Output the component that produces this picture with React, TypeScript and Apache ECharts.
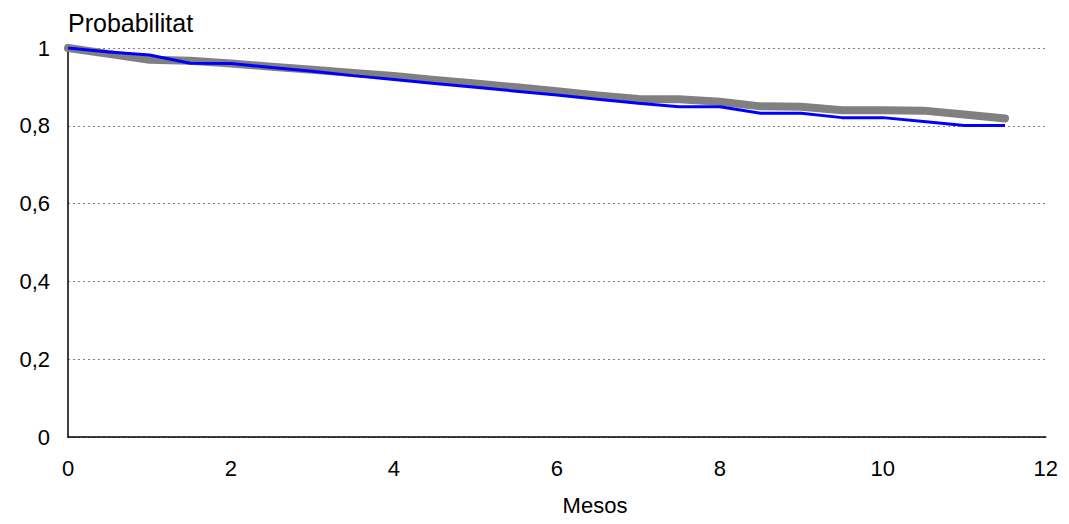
import React, { useEffect, useRef } from "react";
import * as echarts from "echarts";

const months = [0, 0.5, 1, 1.5, 2, 2.5, 3, 3.5, 4, 4.5, 5, 5.5, 6, 6.5, 7, 7.5, 8, 8.5, 9, 9.5, 10, 10.5, 11, 11.5];
const grayValues = [1, 0.985, 0.97, 0.967, 0.96, 0.952, 0.944, 0.936, 0.928, 0.918, 0.909, 0.899, 0.889, 0.878, 0.869, 0.868, 0.862, 0.85, 0.849, 0.84, 0.84, 0.839, 0.829, 0.819];
const blueValues = [1, 0.99, 0.982, 0.961, 0.96, 0.95, 0.94, 0.929, 0.919, 0.909, 0.899, 0.889, 0.879, 0.868, 0.858, 0.849, 0.849, 0.832, 0.832, 0.821, 0.821, 0.811, 0.801, 0.801];
const yTitle = "Probabilitat";
const xTitle = "Mesos";

const FONT = "'Liberation Sans', Arial, sans-serif";

export default function App() {
  const ref = useRef<HTMLDivElement>(null);
  useEffect(() => {
    if (!ref.current) return;
    const chart = echarts.init(ref.current, null, { renderer: "svg" });
    chart.setOption({
      animation: false,
      backgroundColor: "#ffffff",
      textStyle: { fontFamily: FONT },
      grid: { left: 60, right: 11, top: 40, bottom: 79, containLabel: false },
      graphic: [
        {
          type: "text",
          left: 60,
          top: 2,
          style: { text: yTitle, font: `25px ${FONT}`, fill: "#000" },
        },
        {
          type: "text",
          x: 587,
          y: 497,
          style: { text: xTitle, font: `22px ${FONT}`, fill: "#000", align: "center", verticalAlign: "middle" },
        },
      ],
      xAxis: {
        type: "value",
        min: 0,
        max: 12,
        interval: 2,
        axisLine: { show: true, onZero: false, lineStyle: { color: "#000", width: 1.5 } },
        axisTick: { show: false },
        splitLine: { show: false },
        axisLabel: { fontFamily: FONT, fontSize: 22, color: "#000", margin: 20 },
      },
      yAxis: {
        type: "value",
        min: 0,
        max: 1,
        interval: 0.2,
        axisLine: { show: true, lineStyle: { color: "#000", width: 1.5 } },
        axisTick: { show: false },
        splitLine: { show: true, lineStyle: { color: "#808080", type: [2, 3], width: 1 } },
        axisLabel: {
          fontFamily: FONT,
          fontSize: 22,
          color: "#000",
          margin: 18,
          formatter: (v: number) => String(Math.round(v * 10) / 10).replace(".", ","),
        },
      },
      series: [
        {
          type: "line",
          data: months.map((m, i) => [m, grayValues[i]]),
          showSymbol: false,
          lineStyle: { color: "#808080", width: 8, cap: "round", join: "round" },
          z: 2,
        },
        {
          type: "line",
          data: months.map((m, i) => [m, blueValues[i]]),
          showSymbol: false,
          lineStyle: { color: "#0000ff", width: 3 },
          z: 3,
        },
      ],
    });
    return () => chart.dispose();
  }, []);
  return <div ref={ref} style={{ width: 1053, height: 508 }} />;
}
